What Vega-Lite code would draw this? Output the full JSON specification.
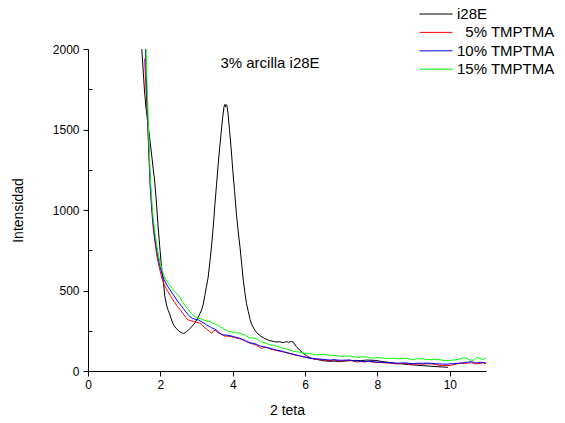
{
  "$schema": "https://vega.github.io/schema/vega-lite/v6.json",
  "width": 398,
  "height": 322,
  "autosize": "none",
  "padding": {"left": 88, "top": 49, "right": 79, "bottom": 52},
  "background": "white",
  "config": {
    "view": {"stroke": null},
    "font": "Liberation Sans",
    "axis": {"labelFont": "Liberation Sans", "titleFont": "Liberation Sans", "labelColor": "black", "titleColor": "black", "domainColor": "black", "tickColor": "black", "titleFontWeight": "normal", "grid": false}
  },
  "layer": [
    {
      "data": {"values": [
    {"s":"i28E","x":1.44,"y":2200},{"s":"i28E","x":1.49,"y":1990},{"s":"i28E","x":1.53,"y":1850},{"s":"i28E","x":1.56,"y":1745},{"s":"i28E","x":1.6,"y":1640},{"s":"i28E","x":1.65,"y":1550},{"s":"i28E","x":1.7,"y":1455},{"s":"i28E","x":1.75,"y":1360},{"s":"i28E","x":1.8,"y":1260},{"s":"i28E","x":1.84,"y":1186},{"s":"i28E","x":1.88,"y":1080},{"s":"i28E","x":1.93,"y":919},{"s":"i28E","x":1.98,"y":780},{"s":"i28E","x":2.03,"y":650},{"s":"i28E","x":2.08,"y":560},{"s":"i28E","x":2.12,"y":470},{"s":"i28E","x":2.17,"y":410},{"s":"i28E","x":2.22,"y":375},{"s":"i28E","x":2.27,"y":345},{"s":"i28E","x":2.32,"y":310},{"s":"i28E","x":2.36,"y":290},{"s":"i28E","x":2.4,"y":275},{"s":"i28E","x":2.45,"y":262},{"s":"i28E","x":2.5,"y":250},{"s":"i28E","x":2.55,"y":242},{"s":"i28E","x":2.6,"y":236},{"s":"i28E","x":2.64,"y":232},{"s":"i28E","x":2.68,"y":238},{"s":"i28E","x":2.73,"y":245},{"s":"i28E","x":2.78,"y":255},{"s":"i28E","x":2.82,"y":265},{"s":"i28E","x":2.87,"y":275},{"s":"i28E","x":2.92,"y":290},{"s":"i28E","x":2.96,"y":300},{"s":"i28E","x":3.0,"y":317},{"s":"i28E","x":3.05,"y":335},{"s":"i28E","x":3.1,"y":360},{"s":"i28E","x":3.14,"y":380},{"s":"i28E","x":3.18,"y":410},{"s":"i28E","x":3.23,"y":470},{"s":"i28E","x":3.27,"y":520},{"s":"i28E","x":3.32,"y":580},{"s":"i28E","x":3.37,"y":680},{"s":"i28E","x":3.42,"y":790},{"s":"i28E","x":3.47,"y":920},{"s":"i28E","x":3.51,"y":1040},{"s":"i28E","x":3.55,"y":1150},{"s":"i28E","x":3.6,"y":1290},{"s":"i28E","x":3.64,"y":1390},{"s":"i28E","x":3.68,"y":1480},{"s":"i28E","x":3.72,"y":1570},{"s":"i28E","x":3.76,"y":1642},{"s":"i28E","x":3.78,"y":1655},{"s":"i28E","x":3.8,"y":1640},{"s":"i28E","x":3.82,"y":1655},{"s":"i28E","x":3.84,"y":1648},{"s":"i28E","x":3.87,"y":1600},{"s":"i28E","x":3.91,"y":1500},{"s":"i28E","x":3.96,"y":1373},{"s":"i28E","x":4.0,"y":1250},{"s":"i28E","x":4.05,"y":1120},{"s":"i28E","x":4.1,"y":980},{"s":"i28E","x":4.15,"y":870},{"s":"i28E","x":4.2,"y":772},{"s":"i28E","x":4.25,"y":660},{"s":"i28E","x":4.29,"y":565},{"s":"i28E","x":4.34,"y":480},{"s":"i28E","x":4.38,"y":420},{"s":"i28E","x":4.43,"y":370},{"s":"i28E","x":4.48,"y":320},{"s":"i28E","x":4.52,"y":290},{"s":"i28E","x":4.58,"y":265},{"s":"i28E","x":4.64,"y":245},{"s":"i28E","x":4.7,"y":230},{"s":"i28E","x":4.78,"y":215},{"s":"i28E","x":4.86,"y":205},{"s":"i28E","x":4.95,"y":195},{"s":"i28E","x":5.03,"y":188},{"s":"i28E","x":5.12,"y":184},{"s":"i28E","x":5.2,"y":180},{"s":"i28E","x":5.3,"y":181},{"s":"i28E","x":5.4,"y":176},{"s":"i28E","x":5.48,"y":182},{"s":"i28E","x":5.55,"y":178},{"s":"i28E","x":5.62,"y":184},{"s":"i28E","x":5.68,"y":178},{"s":"i28E","x":5.76,"y":151},{"s":"i28E","x":5.85,"y":130},{"s":"i28E","x":5.95,"y":110},{"s":"i28E","x":6.04,"y":95},{"s":"i28E","x":6.14,"y":82},{"s":"i28E","x":6.24,"y":75},{"s":"i28E","x":6.32,"y":72},{"s":"i28E","x":6.45,"y":66},{"s":"i28E","x":6.58,"y":62},{"s":"i28E","x":6.69,"y":60},{"s":"i28E","x":6.8,"y":62},{"s":"i28E","x":6.96,"y":58},{"s":"i28E","x":7.1,"y":62},{"s":"i28E","x":7.25,"y":64},{"s":"i28E","x":7.4,"y":66},{"s":"i28E","x":7.55,"y":64},{"s":"i28E","x":7.7,"y":68},{"s":"i28E","x":7.93,"y":66},{"s":"i28E","x":8.1,"y":60},{"s":"i28E","x":8.3,"y":54},{"s":"i28E","x":8.48,"y":48},{"s":"i28E","x":8.65,"y":45},{"s":"i28E","x":8.85,"y":40},{"s":"i28E","x":9.03,"y":37},{"s":"i28E","x":9.25,"y":33},{"s":"i28E","x":9.45,"y":30},{"s":"i28E","x":9.65,"y":27},{"s":"i28E","x":9.8,"y":25},{"s":"i28E","x":9.95,"y":23},
    {"s":"5% TMPTMA","x":1.565,"y":1940},{"s":"5% TMPTMA","x":1.6,"y":1760},{"s":"5% TMPTMA","x":1.64,"y":1580},{"s":"5% TMPTMA","x":1.68,"y":1340},{"s":"5% TMPTMA","x":1.72,"y":1140},{"s":"5% TMPTMA","x":1.76,"y":1000},{"s":"5% TMPTMA","x":1.8,"y":890},{"s":"5% TMPTMA","x":1.85,"y":800},{"s":"5% TMPTMA","x":1.9,"y":720},{"s":"5% TMPTMA","x":1.95,"y":665},{"s":"5% TMPTMA","x":2.0,"y":615},{"s":"5% TMPTMA","x":2.05,"y":570},{"s":"5% TMPTMA","x":2.1,"y":540},{"s":"5% TMPTMA","x":2.16,"y":512},{"s":"5% TMPTMA","x":2.22,"y":490},{"s":"5% TMPTMA","x":2.27,"y":470},{"s":"5% TMPTMA","x":2.33,"y":448},{"s":"5% TMPTMA","x":2.4,"y":425},{"s":"5% TMPTMA","x":2.47,"y":400},{"s":"5% TMPTMA","x":2.55,"y":380},{"s":"5% TMPTMA","x":2.63,"y":355},{"s":"5% TMPTMA","x":2.7,"y":332},{"s":"5% TMPTMA","x":2.77,"y":318},{"s":"5% TMPTMA","x":2.85,"y":312},{"s":"5% TMPTMA","x":2.92,"y":308},{"s":"5% TMPTMA","x":3.0,"y":302},{"s":"5% TMPTMA","x":3.08,"y":298},{"s":"5% TMPTMA","x":3.15,"y":288},{"s":"5% TMPTMA","x":3.22,"y":270},{"s":"5% TMPTMA","x":3.3,"y":256},{"s":"5% TMPTMA","x":3.36,"y":245},{"s":"5% TMPTMA","x":3.42,"y":234},{"s":"5% TMPTMA","x":3.47,"y":250},{"s":"5% TMPTMA","x":3.52,"y":252},{"s":"5% TMPTMA","x":3.6,"y":238},{"s":"5% TMPTMA","x":3.68,"y":228},{"s":"5% TMPTMA","x":3.76,"y":218},{"s":"5% TMPTMA","x":3.85,"y":216},{"s":"5% TMPTMA","x":3.95,"y":214},{"s":"5% TMPTMA","x":4.05,"y":208},{"s":"5% TMPTMA","x":4.15,"y":202},{"s":"5% TMPTMA","x":4.25,"y":196},{"s":"5% TMPTMA","x":4.35,"y":186},{"s":"5% TMPTMA","x":4.45,"y":175},{"s":"5% TMPTMA","x":4.55,"y":168},{"s":"5% TMPTMA","x":4.66,"y":160},{"s":"5% TMPTMA","x":4.74,"y":148},{"s":"5% TMPTMA","x":4.8,"y":140},{"s":"5% TMPTMA","x":4.88,"y":148},{"s":"5% TMPTMA","x":4.95,"y":145},{"s":"5% TMPTMA","x":5.03,"y":138},{"s":"5% TMPTMA","x":5.12,"y":132},{"s":"5% TMPTMA","x":5.2,"y":128},{"s":"5% TMPTMA","x":5.3,"y":122},{"s":"5% TMPTMA","x":5.4,"y":118},{"s":"5% TMPTMA","x":5.5,"y":112},{"s":"5% TMPTMA","x":5.58,"y":108},{"s":"5% TMPTMA","x":5.67,"y":102},{"s":"5% TMPTMA","x":5.75,"y":98},{"s":"5% TMPTMA","x":5.85,"y":93},{"s":"5% TMPTMA","x":5.95,"y":88},{"s":"5% TMPTMA","x":6.05,"y":84},{"s":"5% TMPTMA","x":6.13,"y":80},{"s":"5% TMPTMA","x":6.22,"y":76},{"s":"5% TMPTMA","x":6.3,"y":72},{"s":"5% TMPTMA","x":6.4,"y":72},{"s":"5% TMPTMA","x":6.5,"y":68},{"s":"5% TMPTMA","x":6.6,"y":66},{"s":"5% TMPTMA","x":6.69,"y":64},{"s":"5% TMPTMA","x":6.8,"y":68},{"s":"5% TMPTMA","x":6.9,"y":64},{"s":"5% TMPTMA","x":7.0,"y":60},{"s":"5% TMPTMA","x":7.1,"y":64},{"s":"5% TMPTMA","x":7.24,"y":66},{"s":"5% TMPTMA","x":7.35,"y":60},{"s":"5% TMPTMA","x":7.45,"y":56},{"s":"5% TMPTMA","x":7.55,"y":58},{"s":"5% TMPTMA","x":7.65,"y":56},{"s":"5% TMPTMA","x":7.75,"y":60},{"s":"5% TMPTMA","x":7.85,"y":56},{"s":"5% TMPTMA","x":7.95,"y":52},{"s":"5% TMPTMA","x":8.1,"y":54},{"s":"5% TMPTMA","x":8.2,"y":50},{"s":"5% TMPTMA","x":8.3,"y":50},{"s":"5% TMPTMA","x":8.45,"y":46},{"s":"5% TMPTMA","x":8.57,"y":44},{"s":"5% TMPTMA","x":8.7,"y":48},{"s":"5% TMPTMA","x":8.8,"y":46},{"s":"5% TMPTMA","x":8.9,"y":42},{"s":"5% TMPTMA","x":9.0,"y":42},{"s":"5% TMPTMA","x":9.12,"y":44},{"s":"5% TMPTMA","x":9.25,"y":42},{"s":"5% TMPTMA","x":9.37,"y":45},{"s":"5% TMPTMA","x":9.49,"y":44},{"s":"5% TMPTMA","x":9.6,"y":40},{"s":"5% TMPTMA","x":9.7,"y":36},{"s":"5% TMPTMA","x":9.8,"y":34},{"s":"5% TMPTMA","x":9.9,"y":35},{"s":"5% TMPTMA","x":10.0,"y":34},{"s":"5% TMPTMA","x":10.05,"y":37},{"s":"5% TMPTMA","x":10.15,"y":42},{"s":"5% TMPTMA","x":10.23,"y":46},{"s":"5% TMPTMA","x":10.32,"y":48},{"s":"5% TMPTMA","x":10.4,"y":46},{"s":"5% TMPTMA","x":10.5,"y":50},{"s":"5% TMPTMA","x":10.6,"y":52},{"s":"5% TMPTMA","x":10.7,"y":44},{"s":"5% TMPTMA","x":10.8,"y":46},{"s":"5% TMPTMA","x":10.9,"y":50},{"s":"5% TMPTMA","x":11.0,"y":48},
    {"s":"10% TMPTMA","x":1.575,"y":2100},{"s":"10% TMPTMA","x":1.6,"y":1900},{"s":"10% TMPTMA","x":1.64,"y":1640},{"s":"10% TMPTMA","x":1.68,"y":1400},{"s":"10% TMPTMA","x":1.72,"y":1170},{"s":"10% TMPTMA","x":1.76,"y":1030},{"s":"10% TMPTMA","x":1.8,"y":920},{"s":"10% TMPTMA","x":1.85,"y":830},{"s":"10% TMPTMA","x":1.9,"y":750},{"s":"10% TMPTMA","x":1.95,"y":690},{"s":"10% TMPTMA","x":2.0,"y":640},{"s":"10% TMPTMA","x":2.05,"y":600},{"s":"10% TMPTMA","x":2.1,"y":570},{"s":"10% TMPTMA","x":2.16,"y":542},{"s":"10% TMPTMA","x":2.22,"y":520},{"s":"10% TMPTMA","x":2.27,"y":503},{"s":"10% TMPTMA","x":2.33,"y":482},{"s":"10% TMPTMA","x":2.4,"y":460},{"s":"10% TMPTMA","x":2.45,"y":441},{"s":"10% TMPTMA","x":2.52,"y":420},{"s":"10% TMPTMA","x":2.58,"y":405},{"s":"10% TMPTMA","x":2.63,"y":389},{"s":"10% TMPTMA","x":2.7,"y":368},{"s":"10% TMPTMA","x":2.76,"y":352},{"s":"10% TMPTMA","x":2.82,"y":337},{"s":"10% TMPTMA","x":2.88,"y":328},{"s":"10% TMPTMA","x":2.95,"y":322},{"s":"10% TMPTMA","x":3.05,"y":317},{"s":"10% TMPTMA","x":3.12,"y":308},{"s":"10% TMPTMA","x":3.2,"y":298},{"s":"10% TMPTMA","x":3.28,"y":286},{"s":"10% TMPTMA","x":3.35,"y":278},{"s":"10% TMPTMA","x":3.42,"y":268},{"s":"10% TMPTMA","x":3.5,"y":260},{"s":"10% TMPTMA","x":3.56,"y":252},{"s":"10% TMPTMA","x":3.62,"y":240},{"s":"10% TMPTMA","x":3.68,"y":230},{"s":"10% TMPTMA","x":3.74,"y":224},{"s":"10% TMPTMA","x":3.8,"y":223},{"s":"10% TMPTMA","x":3.88,"y":222},{"s":"10% TMPTMA","x":3.95,"y":218},{"s":"10% TMPTMA","x":4.05,"y":212},{"s":"10% TMPTMA","x":4.12,"y":208},{"s":"10% TMPTMA","x":4.2,"y":203},{"s":"10% TMPTMA","x":4.28,"y":196},{"s":"10% TMPTMA","x":4.35,"y":188},{"s":"10% TMPTMA","x":4.42,"y":180},{"s":"10% TMPTMA","x":4.48,"y":175},{"s":"10% TMPTMA","x":4.56,"y":172},{"s":"10% TMPTMA","x":4.66,"y":166},{"s":"10% TMPTMA","x":4.75,"y":156},{"s":"10% TMPTMA","x":4.85,"y":150},{"s":"10% TMPTMA","x":4.95,"y":146},{"s":"10% TMPTMA","x":5.03,"y":141},{"s":"10% TMPTMA","x":5.12,"y":135},{"s":"10% TMPTMA","x":5.2,"y":130},{"s":"10% TMPTMA","x":5.3,"y":126},{"s":"10% TMPTMA","x":5.4,"y":121},{"s":"10% TMPTMA","x":5.5,"y":114},{"s":"10% TMPTMA","x":5.58,"y":110},{"s":"10% TMPTMA","x":5.67,"y":105},{"s":"10% TMPTMA","x":5.75,"y":100},{"s":"10% TMPTMA","x":5.85,"y":94},{"s":"10% TMPTMA","x":5.95,"y":88},{"s":"10% TMPTMA","x":6.05,"y":84},{"s":"10% TMPTMA","x":6.13,"y":79},{"s":"10% TMPTMA","x":6.22,"y":78},{"s":"10% TMPTMA","x":6.3,"y":76},{"s":"10% TMPTMA","x":6.4,"y":74},{"s":"10% TMPTMA","x":6.5,"y":72},{"s":"10% TMPTMA","x":6.6,"y":70},{"s":"10% TMPTMA","x":6.69,"y":68},{"s":"10% TMPTMA","x":6.8,"y":70},{"s":"10% TMPTMA","x":6.9,"y":68},{"s":"10% TMPTMA","x":7.0,"y":66},{"s":"10% TMPTMA","x":7.12,"y":68},{"s":"10% TMPTMA","x":7.24,"y":68},{"s":"10% TMPTMA","x":7.35,"y":63},{"s":"10% TMPTMA","x":7.45,"y":62},{"s":"10% TMPTMA","x":7.55,"y":60},{"s":"10% TMPTMA","x":7.65,"y":58},{"s":"10% TMPTMA","x":7.75,"y":61},{"s":"10% TMPTMA","x":7.85,"y":60},{"s":"10% TMPTMA","x":7.95,"y":56},{"s":"10% TMPTMA","x":8.1,"y":55},{"s":"10% TMPTMA","x":8.2,"y":53},{"s":"10% TMPTMA","x":8.3,"y":52},{"s":"10% TMPTMA","x":8.45,"y":50},{"s":"10% TMPTMA","x":8.57,"y":48},{"s":"10% TMPTMA","x":8.7,"y":50},{"s":"10% TMPTMA","x":8.8,"y":50},{"s":"10% TMPTMA","x":8.9,"y":47},{"s":"10% TMPTMA","x":9.0,"y":46},{"s":"10% TMPTMA","x":9.12,"y":48},{"s":"10% TMPTMA","x":9.25,"y":48},{"s":"10% TMPTMA","x":9.37,"y":49},{"s":"10% TMPTMA","x":9.49,"y":48},{"s":"10% TMPTMA","x":9.6,"y":46},{"s":"10% TMPTMA","x":9.7,"y":44},{"s":"10% TMPTMA","x":9.8,"y":43},{"s":"10% TMPTMA","x":9.9,"y":42},{"s":"10% TMPTMA","x":10.0,"y":44},{"s":"10% TMPTMA","x":10.1,"y":46},{"s":"10% TMPTMA","x":10.23,"y":48},{"s":"10% TMPTMA","x":10.32,"y":50},{"s":"10% TMPTMA","x":10.4,"y":52},{"s":"10% TMPTMA","x":10.5,"y":55},{"s":"10% TMPTMA","x":10.6,"y":58},{"s":"10% TMPTMA","x":10.68,"y":52},{"s":"10% TMPTMA","x":10.75,"y":50},{"s":"10% TMPTMA","x":10.85,"y":54},{"s":"10% TMPTMA","x":10.92,"y":52},{"s":"10% TMPTMA","x":11.0,"y":50},
    {"s":"15% TMPTMA","x":1.59,"y":2100},{"s":"15% TMPTMA","x":1.62,"y":1880},{"s":"15% TMPTMA","x":1.65,"y":1660},{"s":"15% TMPTMA","x":1.68,"y":1440},{"s":"15% TMPTMA","x":1.72,"y":1210},{"s":"15% TMPTMA","x":1.76,"y":1070},{"s":"15% TMPTMA","x":1.8,"y":950},{"s":"15% TMPTMA","x":1.85,"y":860},{"s":"15% TMPTMA","x":1.9,"y":780},{"s":"15% TMPTMA","x":1.95,"y":715},{"s":"15% TMPTMA","x":2.0,"y":665},{"s":"15% TMPTMA","x":2.05,"y":625},{"s":"15% TMPTMA","x":2.1,"y":590},{"s":"15% TMPTMA","x":2.16,"y":565},{"s":"15% TMPTMA","x":2.22,"y":545},{"s":"15% TMPTMA","x":2.27,"y":530},{"s":"15% TMPTMA","x":2.33,"y":512},{"s":"15% TMPTMA","x":2.4,"y":492},{"s":"15% TMPTMA","x":2.47,"y":475},{"s":"15% TMPTMA","x":2.54,"y":458},{"s":"15% TMPTMA","x":2.6,"y":432},{"s":"15% TMPTMA","x":2.66,"y":412},{"s":"15% TMPTMA","x":2.72,"y":395},{"s":"15% TMPTMA","x":2.78,"y":380},{"s":"15% TMPTMA","x":2.82,"y":368},{"s":"15% TMPTMA","x":2.88,"y":352},{"s":"15% TMPTMA","x":2.95,"y":340},{"s":"15% TMPTMA","x":3.05,"y":327},{"s":"15% TMPTMA","x":3.12,"y":325},{"s":"15% TMPTMA","x":3.2,"y":316},{"s":"15% TMPTMA","x":3.28,"y":312},{"s":"15% TMPTMA","x":3.37,"y":306},{"s":"15% TMPTMA","x":3.45,"y":298},{"s":"15% TMPTMA","x":3.52,"y":290},{"s":"15% TMPTMA","x":3.58,"y":285},{"s":"15% TMPTMA","x":3.65,"y":275},{"s":"15% TMPTMA","x":3.72,"y":266},{"s":"15% TMPTMA","x":3.8,"y":255},{"s":"15% TMPTMA","x":3.86,"y":248},{"s":"15% TMPTMA","x":3.92,"y":244},{"s":"15% TMPTMA","x":4.0,"y":242},{"s":"15% TMPTMA","x":4.08,"y":238},{"s":"15% TMPTMA","x":4.15,"y":236},{"s":"15% TMPTMA","x":4.2,"y":234},{"s":"15% TMPTMA","x":4.28,"y":228},{"s":"15% TMPTMA","x":4.35,"y":222},{"s":"15% TMPTMA","x":4.42,"y":212},{"s":"15% TMPTMA","x":4.48,"y":205},{"s":"15% TMPTMA","x":4.56,"y":206},{"s":"15% TMPTMA","x":4.66,"y":200},{"s":"15% TMPTMA","x":4.74,"y":188},{"s":"15% TMPTMA","x":4.82,"y":178},{"s":"15% TMPTMA","x":4.92,"y":172},{"s":"15% TMPTMA","x":5.03,"y":162},{"s":"15% TMPTMA","x":5.12,"y":160},{"s":"15% TMPTMA","x":5.2,"y":155},{"s":"15% TMPTMA","x":5.3,"y":148},{"s":"15% TMPTMA","x":5.4,"y":140},{"s":"15% TMPTMA","x":5.5,"y":136},{"s":"15% TMPTMA","x":5.58,"y":130},{"s":"15% TMPTMA","x":5.67,"y":124},{"s":"15% TMPTMA","x":5.75,"y":120},{"s":"15% TMPTMA","x":5.85,"y":116},{"s":"15% TMPTMA","x":5.95,"y":112},{"s":"15% TMPTMA","x":6.05,"y":110},{"s":"15% TMPTMA","x":6.13,"y":110},{"s":"15% TMPTMA","x":6.22,"y":104},{"s":"15% TMPTMA","x":6.3,"y":100},{"s":"15% TMPTMA","x":6.4,"y":102},{"s":"15% TMPTMA","x":6.5,"y":104},{"s":"15% TMPTMA","x":6.6,"y":100},{"s":"15% TMPTMA","x":6.69,"y":99},{"s":"15% TMPTMA","x":6.8,"y":96},{"s":"15% TMPTMA","x":6.9,"y":95},{"s":"15% TMPTMA","x":7.0,"y":90},{"s":"15% TMPTMA","x":7.12,"y":92},{"s":"15% TMPTMA","x":7.24,"y":93},{"s":"15% TMPTMA","x":7.35,"y":88},{"s":"15% TMPTMA","x":7.45,"y":85},{"s":"15% TMPTMA","x":7.55,"y":88},{"s":"15% TMPTMA","x":7.65,"y":89},{"s":"15% TMPTMA","x":7.75,"y":84},{"s":"15% TMPTMA","x":7.85,"y":80},{"s":"15% TMPTMA","x":7.95,"y":82},{"s":"15% TMPTMA","x":8.1,"y":82},{"s":"15% TMPTMA","x":8.2,"y":78},{"s":"15% TMPTMA","x":8.3,"y":78},{"s":"15% TMPTMA","x":8.45,"y":80},{"s":"15% TMPTMA","x":8.57,"y":76},{"s":"15% TMPTMA","x":8.7,"y":78},{"s":"15% TMPTMA","x":8.8,"y":80},{"s":"15% TMPTMA","x":8.9,"y":74},{"s":"15% TMPTMA","x":9.0,"y":72},{"s":"15% TMPTMA","x":9.12,"y":76},{"s":"15% TMPTMA","x":9.25,"y":76},{"s":"15% TMPTMA","x":9.37,"y":72},{"s":"15% TMPTMA","x":9.49,"y":70},{"s":"15% TMPTMA","x":9.6,"y":72},{"s":"15% TMPTMA","x":9.7,"y":72},{"s":"15% TMPTMA","x":9.8,"y":66},{"s":"15% TMPTMA","x":9.9,"y":65},{"s":"15% TMPTMA","x":10.0,"y":66},{"s":"15% TMPTMA","x":10.1,"y":68},{"s":"15% TMPTMA","x":10.23,"y":72},{"s":"15% TMPTMA","x":10.32,"y":78},{"s":"15% TMPTMA","x":10.4,"y":82},{"s":"15% TMPTMA","x":10.5,"y":76},{"s":"15% TMPTMA","x":10.6,"y":64},{"s":"15% TMPTMA","x":10.68,"y":70},{"s":"15% TMPTMA","x":10.75,"y":85},{"s":"15% TMPTMA","x":10.85,"y":76},{"s":"15% TMPTMA","x":10.92,"y":72},{"s":"15% TMPTMA","x":11.0,"y":80}
      ]},
      "mark": {"type": "line", "strokeWidth": 1, "clip": true, "interpolate": "linear"},
      "encoding": {
        "x": {"field": "x", "type": "quantitative",
          "scale": {"domain": [0, 11], "nice": false, "zero": false},
          "axis": {"title": "2 teta", "values": [0,1,2,3,4,5,6,7,8,9,10,11], "format": "d",
            "labelExpr": "datum.value % 2 == 0 ? datum.label : ''",
            "tickSize": 5, "labelPadding": 3, "labelFontSize": 12, "titleFontSize": 14,
            "titleX": 199, "titleY": 39, "titleBaseline": "middle", "labelFlush": false}},
        "y": {"field": "y", "type": "quantitative",
          "scale": {"domain": [0, 2000], "nice": false},
          "axis": {"title": "Intensidad", "values": [0,250,500,750,1000,1250,1500,1750,2000], "format": "d",
            "labelExpr": "datum.value % 500 == 0 ? datum.label : ''",
            "tickSize": {"condition": {"test": "datum.value % 500 == 0", "value": 5}, "value": -4},
            "labelPadding": 4, "labelFontSize": 12, "titleFontSize": 14,
            "titleX": -70, "titleY": 161, "titleBaseline": "middle", "titleAngle": -90, "labelFlush": false}},
        "color": {"field": "s", "type": "nominal",
          "scale": {"domain": ["i28E", "5% TMPTMA", "10% TMPTMA", "15% TMPTMA"], "range": ["#000000", "#ff0000", "#0000ff", "#00ff00"]},
          "sort": ["i28E", "5% TMPTMA", "10% TMPTMA", "15% TMPTMA"],
          "legend": {"title": null, "orient": "none", "legendX": 331, "legendY": -43.5,
            "symbolType": "stroke", "symbolSize": 1089, "symbolStrokeWidth": 1,
            "clipHeight": 17, "rowPadding": 1.4, "labelOffset": 4, "padding": 0,
            "labelFontSize": 15, "labelFont": "Liberation Sans", "labelColor": "black",
            "encode": {"labels": {"update": {"dx": {"signal": "datum.value == '5% TMPTMA' ? 8.3 : 0"}}}}}}
      }
    },
    {
      "data": {"values": [{"t": "3% arcilla i28E"}]},
      "mark": {"type": "text", "fontSize": 15, "font": "Liberation Sans", "color": "black", "align": "center", "baseline": "middle"},
      "encoding": {
        "x": {"datum": 5.03, "type": "quantitative"},
        "y": {"datum": 1913, "type": "quantitative"},
        "text": {"field": "t", "type": "nominal"}
      }
    }
  ]
}
